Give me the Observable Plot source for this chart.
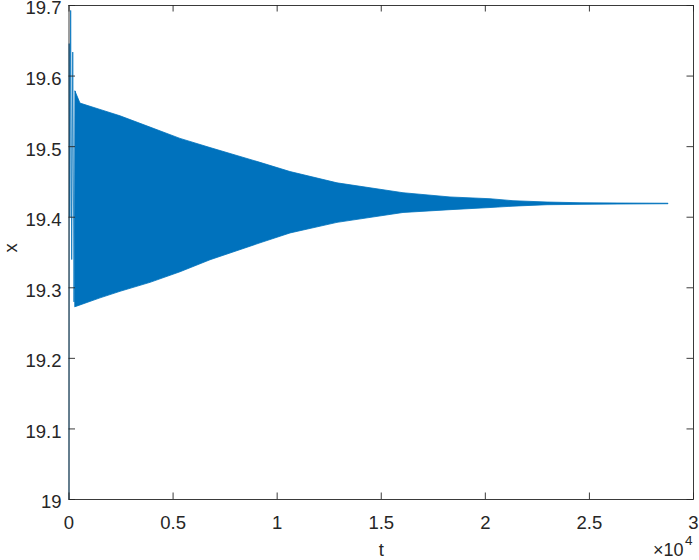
<!DOCTYPE html>
<html>
<head>
<meta charset="utf-8">
<script src="https://cdn.jsdelivr.net/npm/d3@7"></script>
<script src="https://cdn.jsdelivr.net/npm/@observablehq/plot@0.6"></script>
<style>
  html, body { margin: 0; padding: 0; background: #fff; }
  #chart svg { display: block; }
</style>
</head>
<body>
<div id="chart"></div>
<script>
// Envelope of the dense oscillation
const tEnv = [312, 552, 1513, 2474, 3915, 5356, 6798, 9200, 10641, 12899, 16069, 18327, 20248, 21353, 22987, 24572, 26494, 28800];
const upperEnv = [19.578, 19.561, 19.552, 19.543, 19.527, 19.511, 19.498, 19.477, 19.464, 19.448, 19.434, 19.428, 19.4255, 19.4227, 19.4208, 19.4198, 19.4194, 19.4191];
const lowerEnv = [19.2725, 19.275, 19.285, 19.2943, 19.307, 19.322, 19.339, 19.363, 19.377, 19.392, 19.406, 19.410, 19.413, 19.415, 19.417, 19.4175, 19.418, 19.4184];

// Initial transient spikes
const tTrans = [0, 10, 40, 80, 130, 180, 240, 312];
const xTrans = [19.0, 19.646, 19.40, 19.693, 19.34, 19.634, 19.28, 19.578];

// Axis ticks
const xTicks = [0, 5000, 10000, 15000, 20000, 25000, 30000];
const yTicks = [19, 19.1, 19.2, 19.3, 19.4, 19.5, 19.6, 19.7];

const env = tEnv.map((t, i) => ({t, lo: lowerEnv[i], hi: upperEnv[i]}));
const trans = tTrans.map((t, i) => ({t, x: xTrans[i]}));

const W = 699, H = 560;
const mt = 5, mb = 61, ml = 68.5, mr = 6;
const ph = H - mt - mb, pw = W - ml - mr;
const tl = 6.5;
const axisColor = "#262626";
const lineColor = "#0072BD";
const font = "'Liberation Sans', Arial, Helvetica, sans-serif";
const fs = 18.5;

const chart = Plot.plot({
  width: W, height: H,
  marginTop: mt, marginBottom: mb, marginLeft: ml, marginRight: mr,
  style: {fontFamily: font, fontSize: fs + "px", color: axisColor, background: "#fff"},
  x: {domain: [0, 30000], ticks: xTicks},
  y: {domain: [19, 19.7], ticks: yTicks},
  marks: [
    Plot.areaY(env, {x: "t", y1: "lo", y2: "hi", fill: lineColor, stroke: lineColor, strokeWidth: 0.8}),
    Plot.line(trans, {x: "t", y: "x", stroke: lineColor, strokeWidth: 0.8}),
    Plot.frame({stroke: axisColor, strokeWidth: 0.9}),
    // inward ticks bottom / top
    Plot.ruleX(xTicks, {stroke: axisColor, strokeWidth: 0.9, insetTop: ph - tl}),
    Plot.ruleX(xTicks, {stroke: axisColor, strokeWidth: 0.9, insetBottom: ph - tl}),
    // inward ticks left / right
    Plot.ruleY(yTicks, {stroke: axisColor, strokeWidth: 0.9, insetRight: pw - tl}),
    Plot.ruleY(yTicks, {stroke: axisColor, strokeWidth: 0.9, insetLeft: pw - tl}),
    Plot.axisX(xTicks, {tickSize: 0, tickPadding: 16, tickFormat: d => String(d / 10000), label: null, fontSize: fs, fill: axisColor}),
    Plot.axisY(yTicks, {tickSize: 0, tickPadding: 7.5, dy: 3, tickFormat: d => d === 19 ? "19" : d.toFixed(1), label: null, fontSize: fs, fill: axisColor}),
    Plot.text(["t"], {frameAnchor: "bottom", dy: 51, fontSize: fs, fill: axisColor, lineAnchor: "middle"}),
    Plot.text(["x"], {frameAnchor: "left", dx: -58, rotate: -90, fontSize: fs, fill: axisColor, lineAnchor: "middle"}),
    Plot.text(["×10"], {frameAnchor: "bottom-right", dx: -10, dy: 51, fontSize: 18, fill: axisColor, textAnchor: "end", lineAnchor: "middle"}),
    Plot.text(["4"], {frameAnchor: "bottom-right", dx: -8.5, dy: 41, fontSize: 13.5, fill: axisColor, textAnchor: "start", lineAnchor: "middle"})
  ]
});
document.getElementById("chart").appendChild(chart);
</script>
</body>
</html>
